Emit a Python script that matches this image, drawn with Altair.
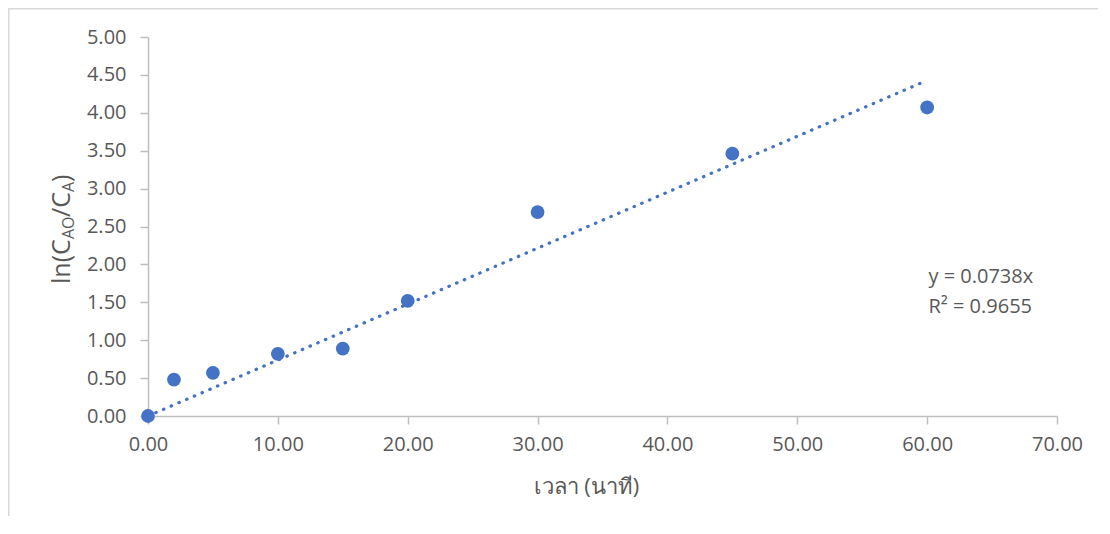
import altair as alt
import pandas as pd

time_min = [0, 2, 5, 10, 15, 20, 30, 45, 60]
ln_ratio = [0.00, 0.48, 0.57, 0.82, 0.89, 1.52, 2.69, 3.46, 4.07]
slope = 0.0738
trend_x = [0, 60]
x_ticks = [0, 10, 20, 30, 40, 50, 60, 70]
y_ticks = [0.0, 0.5, 1.0, 1.5, 2.0, 2.5, 3.0, 3.5, 4.0, 4.5, 5.0]
eq_lines = ["y = 0.0738x", "R² = 0.9655"]
eq_y = [1.83, 1.44]

W, H = 909, 379
PL, PT = 140, 29
BLUE = "#4472C4"
GREY_TXT = "#595959"
AXIS_C = "#BFBFBF"
FONT = "Open Sans"

pts = pd.DataFrame({"t": time_min, "v": ln_ratio})
trend = pd.DataFrame({"t": trend_x, "v": [slope * x for x in trend_x]})
eq = pd.DataFrame({"t": [60.1, 60.1], "v": eq_y, "label": eq_lines})

xs = alt.Scale(domain=[0, 70], nice=False)
ys = alt.Scale(domain=[0, 5], nice=False)

xaxis = alt.Axis(values=x_ticks, format=".2f", grid=False,
                 title="เวลา (นาที)", titleFontSize=22, titleFontWeight="normal",
                 titleColor=GREY_TXT, titlePadding=22, titleFont=FONT, titleX=438,
                 labelFontSize=20, labelColor=GREY_TXT, labelFont=FONT, labelPadding=10,
                 labelFlush=False, labelOverlap=False,
                 tickSize=8, tickColor=AXIS_C, domainColor=AXIS_C, domainWidth=1.5, tickWidth=1.5)
yaxis = alt.Axis(values=y_ticks, tickCount=11, format=".2f", grid=False, title=None,
                 labelFontSize=20, labelColor=GREY_TXT, labelFont=FONT, labelPadding=14,
                 labelFlush=False, labelOverlap=False,
                 tickSize=8, tickColor=AXIS_C, domainColor=AXIS_C, domainWidth=1.5, tickWidth=1.5)

X = alt.X("t:Q", scale=xs, axis=xaxis)
Y = alt.Y("v:Q", scale=ys, axis=yaxis)

border = alt.Chart(pd.DataFrame({"a": [0]})).mark_rect(
    fill=None, stroke="#D9D9D9", strokeWidth=1.5
).encode(x=alt.value(-PL + 0.8), x2=alt.value(W + 200),
         y=alt.value(-PT + 0.8), y2=alt.value(H + 300))

line = alt.Chart(trend).mark_line(
    color=BLUE, strokeWidth=3.2, strokeDash=[0.5, 7.9], strokeCap="round"
).encode(x=X, y=Y)

points = alt.Chart(pts).mark_point(
    filled=True, size=190, color=BLUE, opacity=1
).encode(x=X, y=Y)

eqtext = alt.Chart(eq).mark_text(
    align="left", baseline="middle", fontSize=20, font=FONT, color=GREY_TXT
).encode(x=X, y=Y, text="label:N")

# y-axis title with subscripts: ln(C_AO/C_A)
ytitle_parts = [
    ("ln(C", 25, 284, 0),
    ("AO", 16, 239, 4),
    ("/C", 25, 217, 0),
    ("A", 16, 192, 4),
    (")", 25, 182, 0),
]
ylayers = []
base_x = 70 - 8 - PL  # baseline page x ~70
for txt, fs, ypage, dx in ytitle_parts:
    ylayers.append(
        alt.Chart(pd.DataFrame({"s": [txt]})).mark_text(
            angle=270, align="left", baseline="alphabetic", fontSize=fs, font=FONT, color=GREY_TXT
        ).encode(x=alt.value(base_x + dx), y=alt.value(ypage - 8 - PT), text="s:N")
    )

chart = alt.layer(border, line, points, eqtext, *ylayers).properties(
    width=W, height=H,
    padding={"left": PL, "top": PT, "right": 1090 - PL - W, "bottom": 508 - PT - H},
    autosize=alt.AutoSizeParams(type="none"),
).configure_view(stroke=None)

chart.save("out.html", embed_options={"renderer": "svg", "actions": False})
